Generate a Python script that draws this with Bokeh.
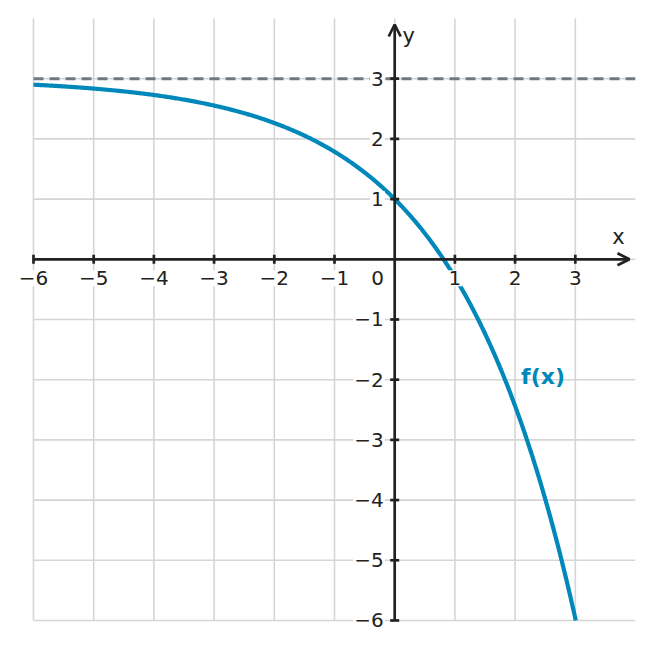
import numpy as np
from bokeh.plotting import figure
from bokeh.models import Arrow, OpenHead, Range1d
from bokeh.core.properties import value
from bokeh.embed import file_html
from bokeh.resources import INLINE

# function f(x) = asymptote - coef * exp(rate * x)
asymptote = 3.0
coef = 2.0
rate = 0.5

x_min, x_max = -6, 4
y_min, y_max = -6, 4
axis_end = 3.9
grid_ticks = [-6, -5, -4, -3, -2, -1, 0, 1, 2, 3]
x_ticks = [-6, -5, -4, -3, -2, -1, 1, 2, 3]
y_ticks = [-6, -5, -4, -3, -2, -1, 1, 2, 3]
x_tick_labels = ["\u22126", "\u22125", "\u22124", "\u22123", "\u22122", "\u22121", "1", "2", "3"]
y_tick_labels = ["\u22126", "\u22125", "\u22124", "\u22123", "\u22122", "\u22121", "1", "2", "3"]
curve_label = "f(x)"
curve_label_pos = (2.1, -1.95)

FONT = value("DejaVu Sans")
AX = "#222222"
CURVE = "#0088bb"
GRID = "#d5d5d5"

# view padding (in data units) so that labels outside the grid are not clipped
pad_left, pad_right, pad_top, pad_bottom = 0.548, 0.0, 0.299, 0.399

p = figure(width=650, height=644,
           x_range=Range1d(x_min - pad_left, x_max + pad_right),
           y_range=Range1d(y_min - pad_bottom, y_max + pad_top),
           output_backend="svg", toolbar_location=None,
           min_border_left=0, min_border_right=15,
           min_border_top=0, min_border_bottom=0)
p.xaxis.visible = False
p.yaxis.visible = False
p.xgrid.visible = False
p.ygrid.visible = False
p.outline_line_color = None
p.background_fill_color = "white"
p.border_fill_color = "white"

# grid
n = len(grid_ticks)
p.segment(x0=grid_ticks, y0=[y_min] * n, x1=grid_ticks, y1=[y_max] * n,
          line_color=GRID, line_width=1.6)
p.segment(x0=[x_min] * n, y0=grid_ticks, x1=[x_max] * n, y1=grid_ticks,
          line_color=GRID, line_width=1.6)

# horizontal asymptote
p.line([x_min, x_max], [asymptote, asymptote], line_color="#6f7a83",
       line_width=3, line_dash="10 6")

# curve, clipped where it leaves the bottom of the grid
x_end = np.log((asymptote - y_min) / coef) / rate
xs = np.linspace(x_min, x_end, 400)
ys = asymptote - coef * np.exp(rate * xs)
p.line(xs, ys, line_color=CURVE, line_width=4.2)

# axes with arrow heads
p.add_layout(Arrow(end=OpenHead(size=12, line_width=2.7, line_color=AX),
                   x_start=x_min, y_start=0, x_end=axis_end, y_end=0,
                   line_width=2.7, line_color=AX))
p.add_layout(Arrow(end=OpenHead(size=12, line_width=2.7, line_color=AX),
                   x_start=0, y_start=y_min, x_end=0, y_end=axis_end,
                   line_width=2.7, line_color=AX))

# tick marks
p.scatter(x_ticks, [0] * len(x_ticks), marker="dash", size=9, angle=np.pi / 2,
          line_color=AX, line_width=2.7)
p.scatter([0] * len(y_ticks), y_ticks, marker="dash", size=9,
          line_color=AX, line_width=2.7)

# tick labels
p.text(x=x_ticks, y=[0] * len(x_ticks), text=x_tick_labels, y_offset=19,
       text_align="center", text_baseline="middle", text_font=FONT,
       text_font_size="20px", text_color=AX,
       background_fill_color="white", padding=1)
p.text(x=[0] * len(y_ticks), y=y_ticks, text=y_tick_labels, x_offset=-10,
       text_align="right", text_baseline="middle", text_font=FONT,
       text_font_size="20px", text_color=AX,
       background_fill_color="white", padding=1)
p.text(x=[0], y=[0], text=["0"], x_offset=-17, y_offset=19,
       text_align="center", text_baseline="middle", text_font=FONT,
       text_font_size="20px", text_color=AX)

# axis names
p.text(x=[axis_end], y=[0], text=["x"], x_offset=-11, y_offset=-22,
       text_align="center", text_baseline="middle", text_font=FONT,
       text_font_size="21px", text_color=AX)
p.text(x=[0], y=[axis_end], text=["y"], x_offset=14, y_offset=11,
       text_align="center", text_baseline="middle", text_font=FONT,
       text_font_size="21px", text_color=AX)

# curve label
p.text(x=[curve_label_pos[0]], y=[curve_label_pos[1]], text=[curve_label],
       text_align="left", text_baseline="middle", text_font=FONT,
       text_font_size="22px", text_font_style="bold", text_color=CURVE)

open("out.html", "w").write(file_html(p, INLINE))
